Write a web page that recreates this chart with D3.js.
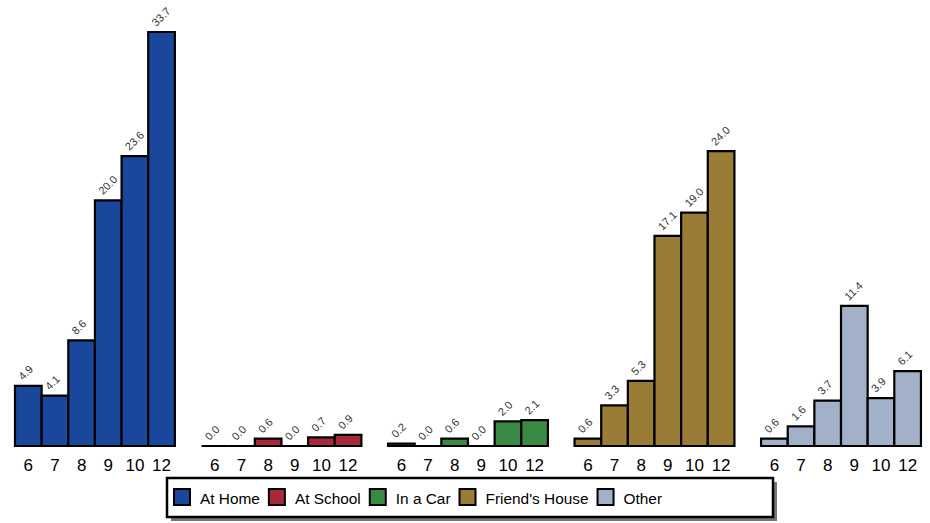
<!DOCTYPE html>
<html><head><meta charset="utf-8">
<script src="https://cdn.jsdelivr.net/npm/d3@7/dist/d3.min.js"></script>
<style>body{margin:0;background:#fff}svg{display:block;font-family:"Liberation Sans",Arial,sans-serif}</style>
</head><body><svg id="c" width="930" height="523"></svg>
<script>
const grades = ["6","7","8","9","10","12"];
const places = ["At Home","At School","In a Car","Friend's House","Other"];
const atHome = [4.9,4.1,8.6,20.0,23.6,33.7];
const atSchool = [0.0,0.0,0.6,0.0,0.7,0.9];
const inACar = [0.2,0.0,0.6,0.0,2.0,2.1];
const friendsHouse = [0.6,3.3,5.3,17.1,19.0,24.0];
const other = [0.6,1.6,3.7,11.4,3.9,6.1];
const colors = ["#1a479c","#a8283c","#3a8a44","#9b7c37","#a3b1c8"];
const series = [atHome,atSchool,inACar,friendsHouse,other];

const svg = d3.select("#c");
const plotLeft = 15, plotRight = 921, baseY = 446, topY = 32;
const panel = d3.scaleBand().domain(places).range([plotLeft, plotRight + 26.6]).paddingInner(0).paddingOuter(0);
const y = d3.scaleLinear().domain([0, 33.7]).range([baseY, topY]);

places.forEach((p, i) => {
  const x0 = panel(p);
  const x = d3.scaleBand().domain(grades).range([x0, x0 + panel.bandwidth() * 6 / 7]);
  const g = svg.append("g");
  const data = series[i].map((v, j) => ({g: grades[j], v}));
  g.selectAll("path.bar").data(data).join("path")
    .attr("class", "bar")
    .attr("d", d => {
      const xx = x(d.g), w = x.bandwidth(), yy = y(d.v);
      return `M${xx},${baseY}V${yy}H${xx + w}V${baseY}Z`;
    })
    .attr("fill", colors[i]).attr("stroke", "#000").attr("stroke-width", 2.2)
    .attr("stroke-linejoin", "miter");
  g.selectAll("g.val").data(data).join("g")
    .attr("class", "val")
    .attr("transform", d => `translate(${x(d.g) + 8},${y(d.v) - 5}) rotate(-45)`)
    .append("text")
    .attr("font-size", 11).attr("fill", "#333")
    .text(d => d.v.toFixed(1));
  const ax = g.append("g").attr("transform", `translate(0,${baseY})`)
    .call(d3.axisBottom(x).tickSize(0).tickPadding(13));
  ax.select(".domain").remove();
  ax.selectAll("text").attr("font-size", 17).attr("font-family", "Liberation Sans, Arial, sans-serif").attr("fill", "#000");
});

// legend
const lg = svg.append("g");
const lx = 167, ly = 478, lw = 606, lh = 39;
lg.append("rect").attr("x", lx + 4).attr("y", ly + 4).attr("width", lw).attr("height", lh).attr("fill", "#777");
lg.append("rect").attr("x", lx).attr("y", ly).attr("width", lw).attr("height", lh).attr("fill", "#fff").attr("stroke", "#000").attr("stroke-width", 2.5);
let cx = 174;
places.forEach((p, i) => {
  lg.append("rect").attr("x", cx).attr("y", 489).attr("width", 16).attr("height", 16)
    .attr("fill", colors[i]).attr("stroke", "#000").attr("stroke-width", 2);
  const t = lg.append("text").attr("x", cx + 26).attr("y", 504).attr("font-size", 15.4).attr("fill", "#000").text(p);
  cx = cx + 26 + t.node().getComputedTextLength() + 9;
});
</script></body></html>
